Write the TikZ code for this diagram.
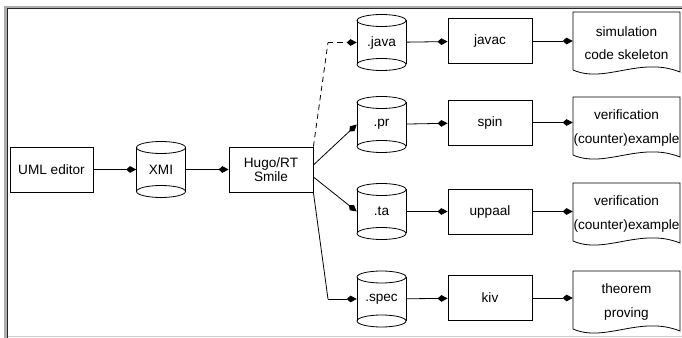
\documentclass[tikz,border=0pt]{standalone}
\usepackage{fontspec}
\setmainfont{Liberation Sans}
\usetikzlibrary{arrows.meta,calc}

\newcommand\mycyl[4]{%
  \node[cylslot] (#1) at (#2,#3) {#4};
  \draw[ln] ({#2-24.5},{#3-22}) -- ({#2-24.5},{#3+22});
  \draw[ln] ({#2+24.5},{#3-22}) -- ({#2+24.5},{#3+22});
  \draw[ln] (#2,{#3-22}) ellipse [x radius=24.5, y radius=6];
  \draw[ln] (#2,{#3+22}) ellipse [x radius=24.5, y radius=6];
}
\newcommand\mydoc[3]{%
  \node[docslot] (#1) at (626.5,{#2+31}) {#3};
  \draw[ln] (573,#2) -- (680,#2) -- (680,{#2+60})
    .. controls (640,{#2+44}) and (605,{#2+72}) .. (573,{#2+58}) -- cycle;
}

\begin{document}
\begin{tikzpicture}[x=0.75pt,y=-0.75pt,
  every node/.style={font=\fontsize{10.2}{12}\selectfont},
  ln/.style={line width=0.6pt},
  box/.style={draw, ln, minimum width=63pt, minimum height=33.75pt, inner sep=0pt, align=center},
  cylslot/.style={minimum width=36.75pt, minimum height=42pt, inner sep=0pt},
  docslot/.style={minimum width=80.25pt, minimum height=40pt, inner sep=0pt, align=center, font=\fontsize{10.2}{17.5}\selectfont},
  conn/.style={ln, -{Kite[length=7.5pt,width=5pt,inset=2.8pt]}},
  dconn/.style={conn, dashed, dash pattern=on 4pt off 3pt},
]
% canvas
\fill[white] (0,0) rectangle (682,338);
\useasboundingbox (0,0) rectangle (682,338);
\fill[gray!65] (3.5,6) rectangle (682,8.5);
\fill[gray!65] (3.5,6) rectangle (7.5,338);
\draw[black!85,line width=0.6pt] (7.5,8.5) -- (682,8.5);
\draw[black!85,line width=0.6pt] (7.5,8.5) -- (7.5,338);
\draw[gray!40,line width=1pt] (7.5,336.5) -- (682,336.5);

% left chain
\node[box, minimum width=62.25pt] (uml) at (51.5,169.5) {UML editor};
\mycyl{xmi}{161}{169.5}{XMI}
\node[box] (hugo) at (271,169.5) {Hugo/RT\\[-1.5pt]Smile};

% cylinders
\mycyl{java}{381.5}{42.5}{.java}
\mycyl{pr}{381.5}{124.5}{.pr}
\mycyl{ta}{381.5}{211.5}{.ta}
\mycyl{spec}{381.5}{299}{.spec}

% tools
\node[box] (javac) at (490,41) {javac};
\node[box] (spin) at (490,122.5) {spin};
\node[box] (uppaal) at (490,211.5) {uppaal};
\node[box] (kiv) at (490,298) {kiv};

% documents
\mydoc{sim}{12}{simulation\\code skeleton}
\mydoc{ver1}{97}{verification\\(counter)example}
\mydoc{ver2}{183}{verification\\(counter)example}
\mydoc{thm}{271}{theorem\\proving}

% connectors
\draw[conn] (uml) -- (xmi);
\draw[conn] (xmi) -- (hugo);

\coordinate (jbend) at (328,42.5);
\coordinate (sbend) at (328,299);
\draw[ln, dashed, dash pattern=on 4pt off 3pt] (hugo.north east) -- (jbend);
\draw[dconn] (jbend) -- (java);
\draw[conn] ($(hugo.east)+(0,-4.5)$) -- (pr.west);
\draw[conn] ($(hugo.east)+(0,7.5)$) -- (ta.west);
\draw[ln] (hugo.south east) -- (sbend);
\draw[conn] (sbend) -- (spec);

\draw[conn] (java) -- (javac);
\draw[conn] (pr) -- (spin);
\draw[conn] (ta) -- (uppaal);
\draw[conn] (spec) -- (kiv);

\draw[conn] (javac) -- (javac -| sim.west);
\draw[conn] (spin) -- (spin -| ver1.west);
\draw[conn] (uppaal) -- (uppaal -| ver2.west);
\draw[conn] (kiv) -- (kiv -| thm.west);
\end{tikzpicture}
\end{document}
